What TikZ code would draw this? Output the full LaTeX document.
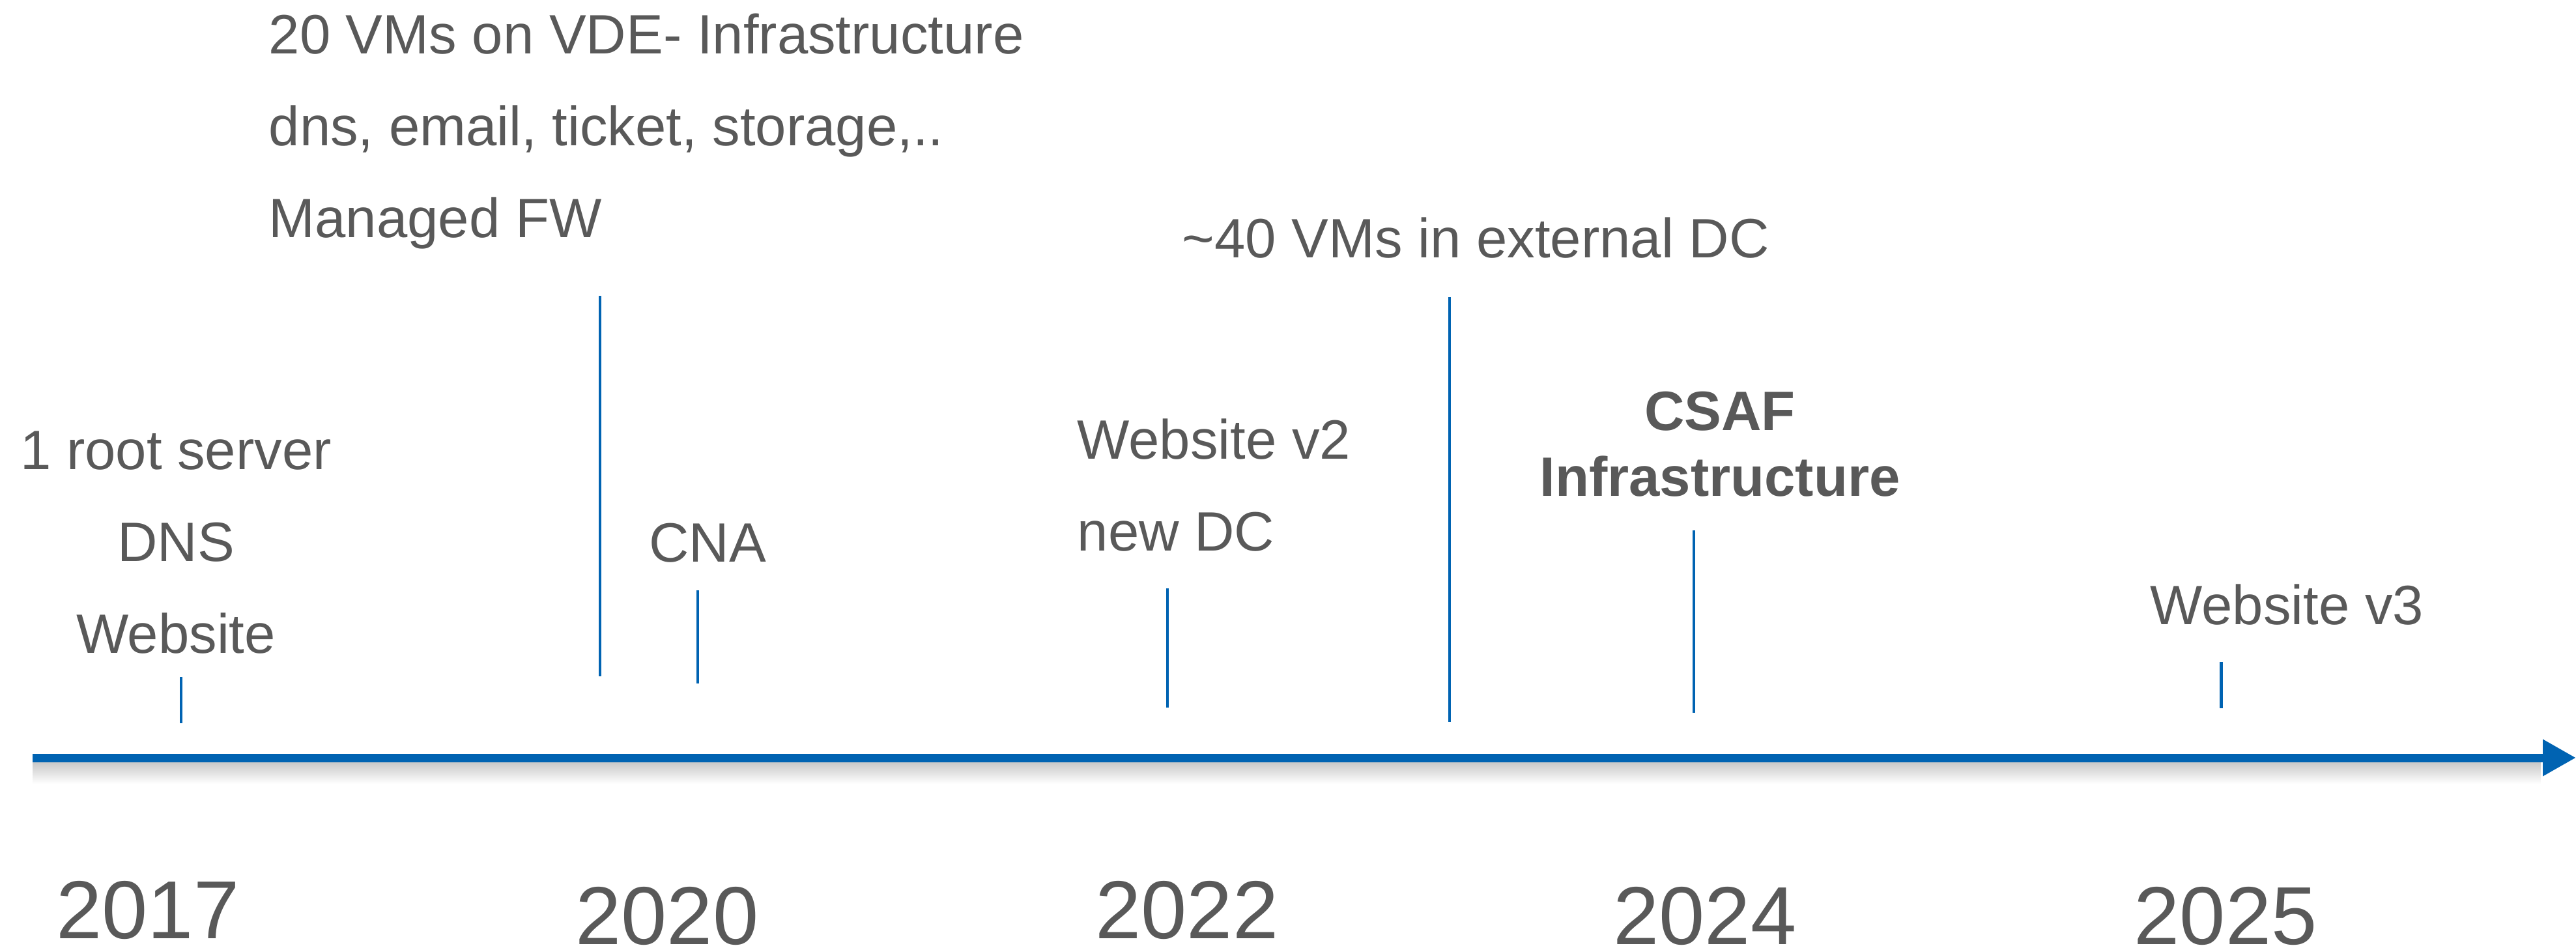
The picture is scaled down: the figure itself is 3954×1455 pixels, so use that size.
\documentclass[tikz,border=0pt]{standalone}
\usepackage{fontspec}
\setmainfont{Liberation Sans}
\usetikzlibrary{arrows.meta}
\definecolor{tlblue}{RGB}{0,99,178}
\definecolor{tlgray}{RGB}{89,89,89}
\tikzset{
  lbl/.style={text=tlgray, inner sep=0pt, font=\fontsize{24.2}{29}\selectfont},
  yearlbl/.style={text=tlgray, inner sep=0pt, anchor=base, font=\fontsize{35.9}{43}\selectfont},
  tickline/.style={tlblue, line width=1.4pt},
}
\begin{document}
\begin{tikzpicture}[x=0.01cm, y=-0.01cm]
  \useasboundingbox (0, 0) rectangle (3954, 1455);
  % timeline with its shadow
  \shade[top color=black!22, bottom color=white] (50, 1169) rectangle (3900, 1203);
  \coordinate (start) at (50, 1163);
  \coordinate (end) at (3954, 1163);
  \draw[tlblue, line width=0.13cm, -{Triangle[length=0.51cm, width=0.53cm]}] (start) -- (end);
  % years
  \foreach \yr/\x/\y in {2017/227/1440, 2020/1024/1449, 2022/1822/1440, 2024/2617/1449, 2025/3416/1449}
    \node[yearlbl] (y\yr) at (\x, \y) {\yr};
  % ticks
  \foreach \x/\top/\bot in {278/1039/1110, 921/454/1038, 1071/906/1049, 1792/903/1086,
                            2225/456/1108, 2600/814/1094, 3409/1016/1087}
    \draw[tickline] (\x, \top) -- (\x, \bot);
  % 2017
  \foreach \txt [count=\i] in {1 root server, DNS, Website}
    \node[lbl, anchor=base] (first\i) at (270, {720+141*(\i-1)}) {\txt};
  % 2020
  \foreach \txt [count=\i] in {20 VMs on VDE- Infrastructure, {dns, email, ticket, storage,..}, Managed FW}
    \node[lbl, anchor=base west] (vde\i) at (412, {83+141*(\i-1)}) {\txt};
  \node[lbl, anchor=base] (cna) at (1086, 862) {CNA};
  % 2022
  \foreach \txt [count=\i] in {Website v2, new DC}
    \node[lbl, anchor=base west] (newdc\i) at (1653, {704+141*(\i-1)}) {\txt};
  \node[lbl, anchor=base west] (extdc) at (1814, 396) {\textasciitilde 40 VMs in external DC};
  % 2024
  \foreach \txt [count=\i] in {CSAF, Infrastructure}
    \node[lbl, anchor=base, font=\fontsize{24.2}{29}\selectfont\bfseries] (csaf\i) at (2640, {660+101*(\i-1)}) {\txt};
  % 2025
  \node[lbl, anchor=base west] (webthree) at (3300, 958) {Website v3};
\end{tikzpicture}
\end{document}
